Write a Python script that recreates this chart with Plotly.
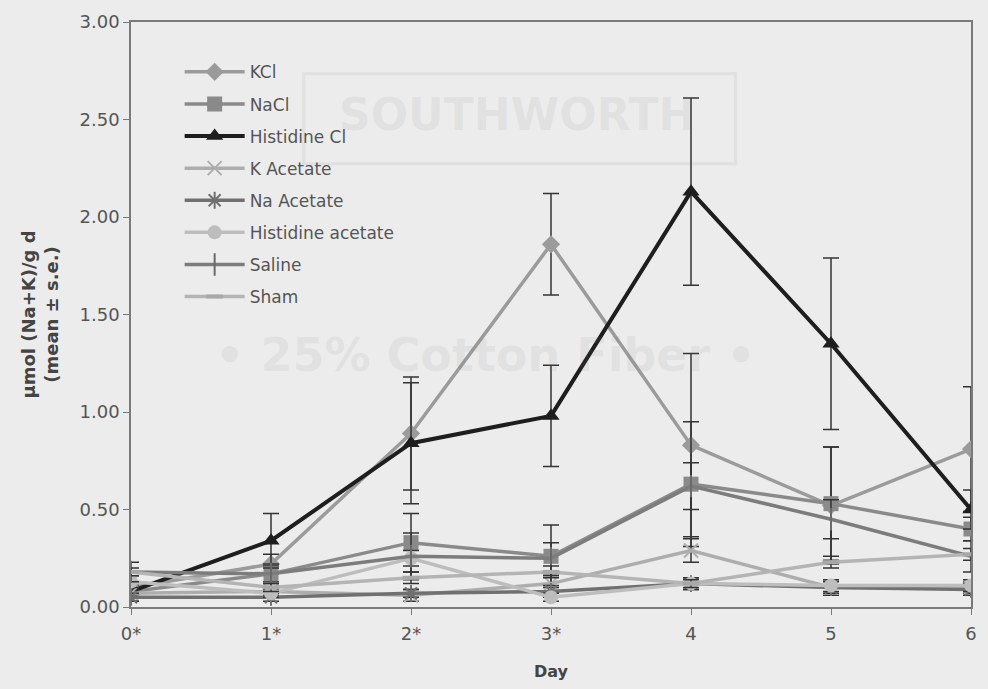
import plotly.graph_objects as go

# ---- data ----
days = [0, 1, 2, 3, 4, 5, 6]
day_labels = ["0*", "1*", "2*", "3*", "4", "5", "6"]

kcl = [0.10, 0.22, 0.89, 1.86, 0.83, 0.52, 0.81]
kcl_se = [0.03, 0.05, 0.29, 0.26, 0.47, 0.30, 0.32]

nacl = [0.08, 0.17, 0.33, 0.26, 0.63, 0.53, 0.40]
nacl_se = [0.03, 0.04, 0.15, 0.16, 0.32, 0.29, 0.06]

hiscl = [0.08, 0.34, 0.84, 0.98, 2.13, 1.35, 0.50]
hiscl_se = [0.05, 0.14, 0.31, 0.26, 0.48, 0.44, 0.10]

kac = [0.07, 0.08, 0.06, 0.12, 0.29, 0.10, 0.10]
kac_se = [0.02, 0.02, 0.03, 0.04, 0.06, 0.04, 0.03]

naac = [0.05, 0.05, 0.07, 0.08, 0.12, 0.10, 0.09]
naac_se = [0.02, 0.02, 0.02, 0.03, 0.03, 0.03, 0.03]

hisac = [0.13, 0.07, 0.25, 0.05, 0.12, 0.11, 0.11]
hisac_se = [0.03, 0.02, 0.04, 0.02, 0.03, 0.03, 0.03]

saline = [0.18, 0.17, 0.26, 0.25, 0.62, 0.45, 0.26]
saline_se = [0.05, 0.05, 0.12, 0.08, 0.12, 0.10, 0.08]

sham = [0.18, 0.10, 0.15, 0.18, 0.12, 0.23, 0.27]
sham_se = [0.02, 0.02, 0.03, 0.03, 0.02, 0.03, 0.03]

series = [
    ("KCl", kcl, kcl_se, "#9b9b9b", dict(symbol="diamond", size=14)),
    ("NaCl", nacl, nacl_se, "#8a8a8a", dict(symbol="square", size=15)),
    ("Histidine Cl", hiscl, hiscl_se, "#1e1e1e", dict(symbol="triangle-up", size=15)),
    ("K Acetate", kac, kac_se, "#adadad", dict(symbol="x-thin", size=14, line=dict(width=2, color="#adadad"))),
    ("Na Acetate", naac, naac_se, "#707070", dict(symbol="asterisk", size=14, line=dict(width=2, color="#707070"))),
    ("Histidine acetate", hisac, hisac_se, "#bdbdbd", dict(symbol="circle", size=14)),
    ("Saline", saline, saline_se, "#7c7c7c", dict(symbol="line-ns", size=16, line=dict(width=2, color="#6a6a6a"))),
    ("Sham", sham, sham_se, "#b4b4b4", dict(symbol="line-ew", size=12, line=dict(width=4, color="#a8a8a8"))),
]

fig = go.Figure()
for i, (name, vals, se, col, mk) in enumerate(series):
    m = dict(color=col)
    m.update(mk)
    fig.add_trace(go.Scatter(
        x=days, y=vals, name=name, mode="lines+markers",
        line=dict(color=col, width=4 if name == "Histidine Cl" else 3.5),
        marker=m,
        error_y=dict(type="data", array=se, visible=True, color="#333333", thickness=1.5, width=8),
        legendgroup=f"g{i}",
    ))

W, H = 988, 689
L, R, T, B = 131, 11, 15, 76
pw, ph = W - L - R, H - T - B

def px(x):
    return (x - L) / pw

def py(y):
    return (H - B - y) / ph

wm = "rgba(120,120,120,0.10)"
annotations = [
    dict(x=px(520), y=py(110), xref="paper", yref="paper", text="<b>SOUTHWORTH</b>",
         xanchor="center", yanchor="middle",
         showarrow=False, font=dict(family="DejaVu Sans", size=44, color=wm)),
    dict(x=px(488), y=py(355), xref="paper", yref="paper", text="<b>• 25% Cotton Fiber •</b>",
         xanchor="center", yanchor="middle",
         showarrow=False, font=dict(family="DejaVu Sans", size=46, color=wm)),
]
shapes = [
    dict(type="rect", xref="paper", yref="paper", x0=px(305), x1=px(740), y0=py(160), y1=py(68),
         line=dict(color=wm, width=3), layer="below"),
]

axis_col = "#7a7a7a"
fig.update_layout(
    width=W, height=H,
    margin=dict(l=L, r=R, t=T, b=B),
    paper_bgcolor="#ececec", plot_bgcolor="#ececec",
    font=dict(family="DejaVu Sans", color="#555555", size=17),
    showlegend=True,
    legend=dict(x=px(180), y=py(48), xanchor="left", yanchor="top",
                bgcolor="rgba(0,0,0,0)", font=dict(size=17, color="#555555"),
                tracegroupgap=7, itemwidth=60),
    xaxis=dict(range=[0, 6], tickmode="array", tickvals=days, ticktext=day_labels,
               showline=True, linecolor=axis_col, linewidth=1.5, mirror=True,
               ticks="outside", ticklen=6, tickcolor=axis_col, showgrid=False, zeroline=False,
               tickfont=dict(size=18, color="#555555"), ticklabelstandoff=4,
               title=dict(text="<b>Day</b>", font=dict(size=16, color="#444444"), standoff=22)),
    yaxis=dict(range=[0, 3], dtick=0.5, tickformat=".2f",
               showline=True, linecolor=axis_col, linewidth=1.5, mirror=True,
               ticks="outside", ticklen=6, tickcolor=axis_col, showgrid=False, zeroline=False,
               tickfont=dict(size=18, color="#555555"),
               title=dict(text="<b>μmol (Na+K)/g d<br>(mean ± s.e.)</b>",
                          font=dict(size=18, color="#444444"), standoff=16)),
    annotations=annotations,
    shapes=shapes,
)

fig.write_html(
    "out.html",
    config={"displayModeBar": False},
    post_script="document.body.style.margin='0px';document.body.style.padding='0px';"
                "document.body.style.overflow='hidden';document.body.style.background='#ececec';",
)
